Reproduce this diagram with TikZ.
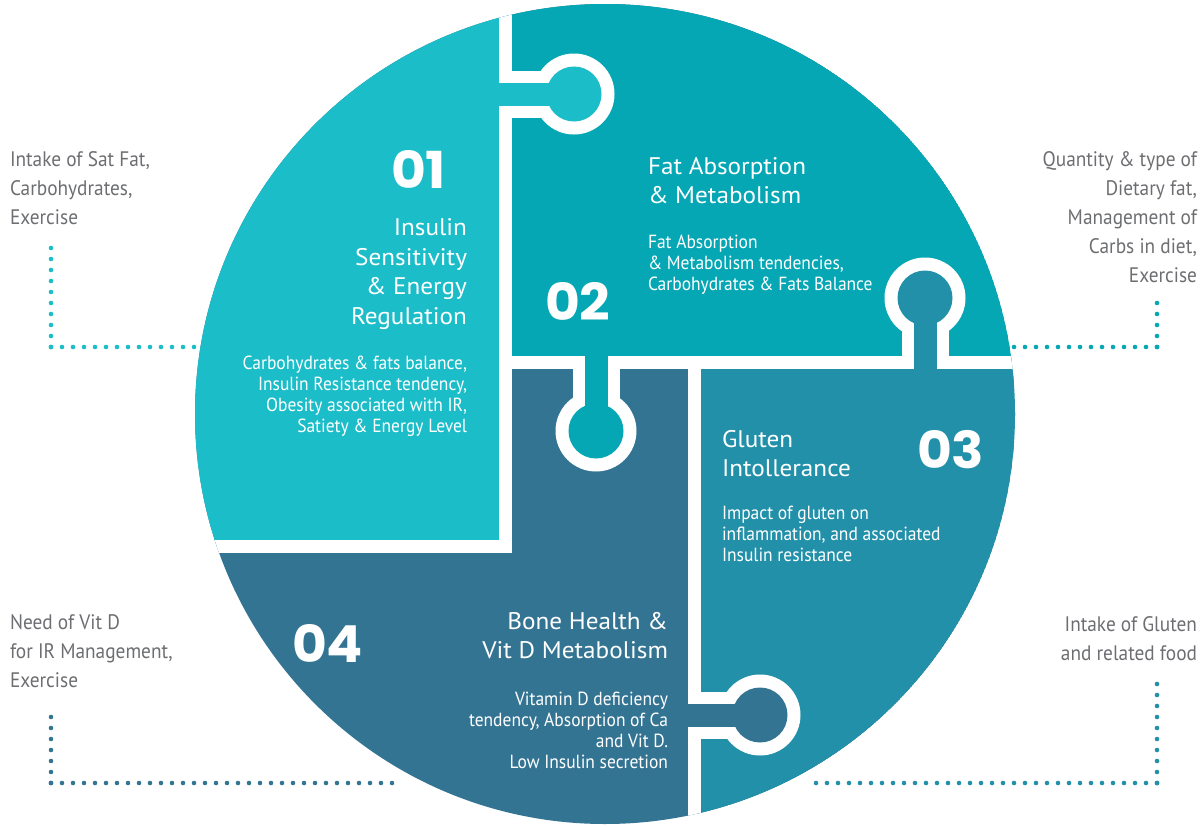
\documentclass[tikz,border=0pt]{standalone}
\usepackage{fontspec}
\setmainfont{PT Sans}
\newfontfamily\numfont{Poppins}[FakeStretch=1.05]
\newfontfamily\condfont{PT Sans}[FakeStretch=0.92]
\newfontfamily\ttlfont{PT Sans}[FakeStretch=1.05]
\definecolor{cA}{HTML}{1BBDC9}
\definecolor{cB}{HTML}{05A7B5}
\definecolor{cC}{HTML}{2390A9}
\definecolor{cD}{HTML}{347493}
\definecolor{lbl}{HTML}{6D6E71}
\begin{document}
\begin{tikzpicture}[x=1pt,y=-1pt,
  every node/.style={inner sep=0pt, outer sep=0pt},
  dots/.style={line width=4.6pt, line cap=round, dash pattern=on 0pt off 11pt},
  gap/.style={white, line width=13pt},
  numtext/.style={white, font=\numfont\bfseries\fontsize{51}{51}\selectfont},
  ttl/.style={white, font=\ttlfont\fontsize{24}{29.5}\selectfont},
  body/.style={white, font=\condfont\fontsize{19}{21}\selectfont},
  lbltext/.style={lbl, font=\condfont\fontsize{21}{29}\selectfont}]
\useasboundingbox (0,0) rectangle (1202,827);
\coordinate (O) at (605,414);
% puzzle pieces
\begin{scope}
  \clip (O) circle (410);
  \fill[cD] (O) circle (410);
  \fill[cA] (0,0) rectangle (505.5,546.5);
  \fill[cB] (505.5,0) rectangle (1202,362);
  \fill[cC] (694.5,362) rectangle (1202,827);
  \draw[gap] (505.5,-10) -- (505.5,546.5) -- (-10,546.5);
  \draw[gap] (505.5,362) -- (1215,362);
  \draw[gap] (694.5,362) -- (694.5,840);
\end{scope}
% knob 1: piece 1 into piece 2
\fill[white] (574,94) circle (40.5);
\fill[white] (505.5,70.5) rectangle (574,117.5);
\fill[cA] (574,94) circle (27.5);
\fill[cA] (495,82.5) rectangle (574,105.5);
% knob 2: piece 2 into piece 4
\fill[white] (596,431) circle (40.5);
\fill[white] (572.5,362) rectangle (619.5,431);
\fill[cB] (596,431) circle (27.5);
\fill[cB] (584.5,350) rectangle (607.5,431);
% knob 3: piece 3 into piece 2
\fill[white] (925,298) circle (40.5);
\fill[white] (901.5,298) rectangle (948.5,362);
\fill[cC] (925,298) circle (27.5);
\fill[cC] (913.5,298) rectangle (936.5,374);
% knob 4: piece 4 into piece 3
\fill[white] (760,715) circle (40.5);
\fill[white] (694.5,691.5) rectangle (760,738.5);
\fill[cD] (760,715) circle (27.5);
\fill[cD] (684,703.5) rectangle (760,726.5);
% numbers
\node[numtext, anchor=base west] (n1) at (391,188) {01};
\node[numtext, anchor=base west] (n2) at (545,320) {02};
\node[numtext, anchor=base west] (n3) at (917,468) {03};
\node[numtext, anchor=base west] (n4) at (292,662) {04};
% piece texts
\node[ttl, anchor=north east, align=right] (t1) at (467,219) {Insulin\\Sensitivity\\\& Energy\\Regulation};
\node[body, anchor=north east, align=right] (b1) at (467,356) {Carbohydrates \& fats balance,\\Insulin Resistance tendency,\\Obesity associated with IR,\\Satiety \& Energy Level};
\node[ttl, anchor=north west, align=left] (t2) at (648,157) {Fat Absorption\\\& Metabolism};
\node[body, anchor=north west, align=left] (b2) at (648,235) {Fat Absorption\\\& Metabolism tendencies,\\Carbohydrates \& Fats Balance};
\node[ttl, anchor=north west, align=left] (t3) at (722,430) {Gluten\\Intollerance};
\node[body, anchor=north west, align=left] (b3) at (722,506) {Impact of gluten on\\inflammation, and associated\\Insulin resistance};
\node[ttl, anchor=north east, align=right] (t4) at (668,612) {Bone Health \&\\Vit D Metabolism};
\node[body, anchor=north east, align=right] (b4) at (668,692) {Vitamin D deficiency\\tendency, Absorption of Ca\\and Vit D.\\Low Insulin secretion};
% outside labels
\node[lbltext, anchor=north west, align=left] (l1) at (10,152) {Intake of Sat Fat,\\Carbohydrates,\\Exercise};
\node[lbltext, anchor=north east, align=right] (l2) at (1197,152) {Quantity \& type of\\Dietary fat,\\Management of\\Carbs in diet,\\Exercise};
\node[lbltext, anchor=north west, align=left] (l4) at (10,615) {Need of Vit D\\for IR Management,\\Exercise};
\node[lbltext, anchor=north east, align=right] (l3) at (1197,617) {Intake of Gluten\\and related food};
% dotted leaders
\coordinate (tlTop) at (51,238);
\coordinate (tlCor) at (51,347);
\coordinate (tlEnd) at (198,347);
\coordinate (trTop) at (1157,293);
\coordinate (trCor) at (1157,347);
\coordinate (trEnd) at (1012,347);
\coordinate (blTop) at (51,707);
\coordinate (blCor) at (51,783);
\coordinate (blEnd) at (395,783);
\coordinate (brTop) at (1157,673);
\coordinate (brCor) at (1157,783);
\coordinate (brEnd) at (813,783);
\draw[dots, cA] (tlCor) -- (tlTop);
\draw[dots, cA] (tlCor) -- (tlEnd);
\draw[dots, cB] (trCor) -- (trTop);
\draw[dots, cB] (trCor) -- (trEnd);
\draw[dots, cD] (blCor) -- (blTop);
\draw[dots, cD] (blCor) -- (blEnd);
\draw[dots, cC] (brCor) -- (brTop);
\draw[dots, cC] (brCor) -- (brEnd);
\end{tikzpicture}
\end{document}
